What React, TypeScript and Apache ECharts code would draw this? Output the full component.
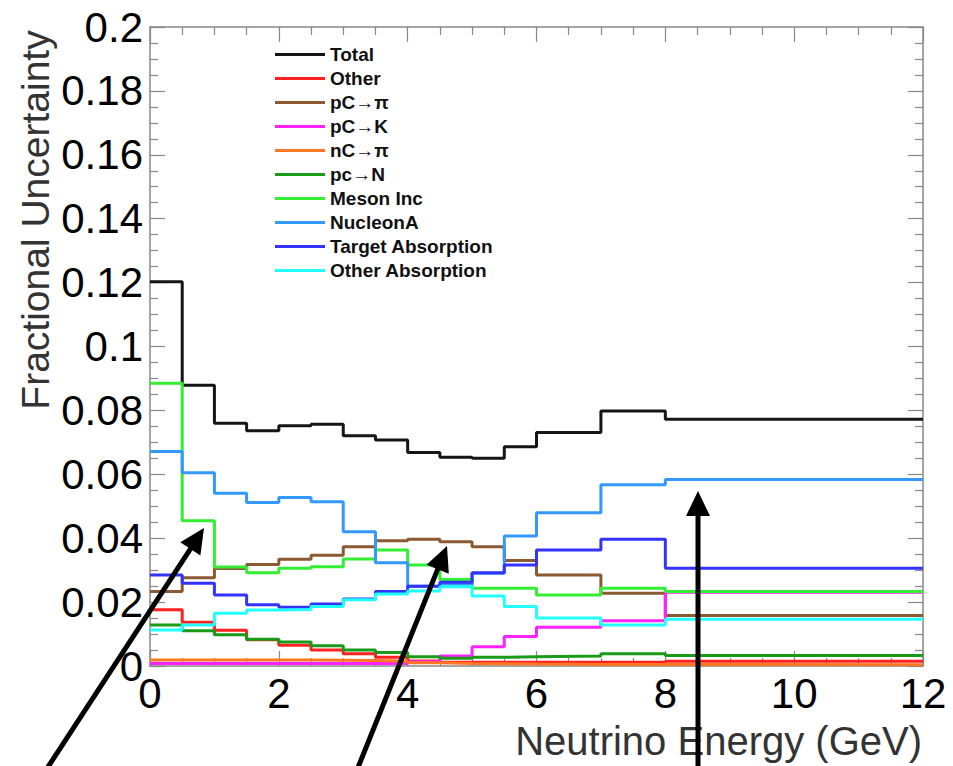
import React, { useEffect, useRef } from "react";
import * as echarts from "echarts";

// Bin edges (GeV) of the histograms
const binEdges: number[] = [0, 0.5, 1, 1.5, 2, 2.5, 3, 3.5, 4, 4.5, 5, 5.5, 6, 7, 8, 12];

// Fractional uncertainty per bin for each component
const total: number[] = [0.1203, 0.0879, 0.076, 0.0736, 0.0752, 0.0757, 0.0721, 0.0707, 0.0668, 0.0653, 0.065, 0.0686, 0.0731, 0.0798, 0.0772];
const other: number[] = [0.0176, 0.0137, 0.0112, 0.0082, 0.0065, 0.005, 0.0038, 0.0027, 0.0016, 0.0012, 0.0012, 0.0012, 0.0012, 0.0012, 0.0015];
const pcPi: number[] = [0.0233, 0.0276, 0.0305, 0.0318, 0.0334, 0.0347, 0.0373, 0.0392, 0.0397, 0.0389, 0.0373, 0.033, 0.0285, 0.0228, 0.0158];
const pcK: number[] = [0.0008, 0.0008, 0.0008, 0.0008, 0.0008, 0.0008, 0.0008, 0.0008, 0.0013, 0.0031, 0.006, 0.0092, 0.0121, 0.0142, 0.0231];
const ncPi: number[] = [0.0019, 0.0019, 0.0019, 0.0019, 0.0019, 0.0018, 0.0017, 0.0015, 0.001, 0.0008, 0.0007, 0.0006, 0.0005, 0.0005, 0.0004];
const pcN: number[] = [0.0128, 0.011, 0.0098, 0.0084, 0.0075, 0.0063, 0.005, 0.0042, 0.0029, 0.0024, 0.0027, 0.0029, 0.0031, 0.0038, 0.0033];
const mesonInc: number[] = [0.0885, 0.0455, 0.031, 0.0292, 0.0306, 0.0311, 0.0335, 0.0363, 0.0316, 0.0271, 0.0243, 0.0243, 0.0222, 0.0243, 0.0233];
const nucleonA: number[] = [0.0671, 0.0605, 0.0541, 0.0512, 0.0527, 0.0514, 0.042, 0.0323, 0.025, 0.0256, 0.029, 0.0407, 0.048, 0.0567, 0.0584];
const targetAbs: number[] = [0.0285, 0.0259, 0.0222, 0.0192, 0.0184, 0.0194, 0.021, 0.0233, 0.025, 0.0262, 0.0292, 0.0316, 0.0363, 0.0397, 0.0306];
const otherAbs: number[] = [0.0113, 0.0128, 0.0165, 0.0175, 0.0177, 0.0186, 0.0207, 0.0225, 0.0235, 0.0248, 0.0219, 0.0186, 0.015, 0.0128, 0.0146];

const seriesNames: string[] = ["Total", "Other", "pC→π", "pC→K", "nC→π", "pc→N", "Meson Inc", "NucleonA", "Target Absorption", "Other Absorption"];
const seriesColors: string[] = ["#151515", "#ff2020", "#8c5a32", "#ff22ff", "#ff7722", "#199a19", "#33ee33", "#3399ff", "#3333ff", "#22ffff"];
const seriesValues: number[][] = [total, other, pcPi, pcK, ncPi, pcN, mesonInc, nucleonA, targetAbs, otherAbs];

const xTicks = { min: 0, max: 12, interval: 2 };
const yTicks = { min: 0, max: 0.2, interval: 0.02 };

const FONT = "'Liberation Sans', Arial, Helvetica, sans-serif";
const AXIS_GRAY = "#888888";

function stepData(values: number[]): number[][] {
  const pts = values.map((v, i) => [binEdges[i], v]);
  pts.push([binEdges[binEdges.length - 1], values[values.length - 1]]);
  return pts;
}

function arrow(tail: number[], tip: number[], headLen: number, headW: number, width: number) {
  const dx = tip[0] - tail[0];
  const dy = tip[1] - tail[1];
  const len = Math.sqrt(dx * dx + dy * dy);
  const ux = dx / len;
  const uy = dy / len;
  const bx = tip[0] - ux * headLen;
  const by = tip[1] - uy * headLen;
  const px = -uy;
  const py = ux;
  return [
    {
      type: "line",
      z: 100,
      shape: { x1: tail[0], y1: tail[1], x2: bx + ux * 2, y2: by + uy * 2 },
      style: { stroke: "#000", lineWidth: width },
    },
    {
      type: "polygon",
      z: 100,
      shape: {
        points: [
          [tip[0], tip[1]],
          [bx + (px * headW) / 2, by + (py * headW) / 2],
          [bx - (px * headW) / 2, by - (py * headW) / 2],
        ],
      },
      style: { fill: "#000" },
    },
  ];
}

export default function App() {
  const ref = useRef<HTMLDivElement>(null);

  useEffect(() => {
    if (!ref.current) return;
    const chart = echarts.init(ref.current, undefined, { renderer: "svg" });

    const axisCommon = {
      type: "value" as const,
      axisLine: { show: true, onZero: false, lineStyle: { color: AXIS_GRAY, width: 1.5 } },
      axisTick: { show: true, inside: true, length: 15, lineStyle: { color: AXIS_GRAY, width: 1.2 } },
      minorTick: { show: true, length: 8, lineStyle: { color: AXIS_GRAY, width: 1.2 } },
      splitLine: { show: false },
    };

    const option: any = {
      animation: false,
      backgroundColor: "#ffffff",
      grid: { left: 150, right: 30, top: 27, bottom: 100, containLabel: false },
      legend: {
        orient: "vertical",
        left: 270,
        top: 40,
        itemWidth: 50,
        itemHeight: 3,
        itemGap: 5,
        icon: "rect",
        data: seriesNames,
        textStyle: { fontSize: 19, fontWeight: "bold", fontFamily: FONT, color: "#111", lineHeight: 19 },
      },
      xAxis: [
        {
          ...axisCommon,
          position: "bottom",
          min: xTicks.min,
          max: xTicks.max,
          interval: xTicks.interval,
          minorTick: { ...axisCommon.minorTick, splitNumber: 4 },
          axisLabel: { fontSize: 42, color: "#000", fontFamily: FONT, margin: 6 },
        },
        {
          ...axisCommon,
          position: "top",
          min: xTicks.min,
          max: xTicks.max,
          interval: xTicks.interval,
          minorTick: { ...axisCommon.minorTick, splitNumber: 4 },
          axisLabel: { show: false },
        },
      ],
      yAxis: [
        {
          ...axisCommon,
          position: "left",
          min: yTicks.min,
          max: yTicks.max,
          interval: yTicks.interval,
          minorTick: { ...axisCommon.minorTick, splitNumber: 4 },
          axisLabel: {
            fontSize: 42,
            color: "#000",
            fontFamily: FONT,
            margin: 7,
            formatter: (v: number) => String(+v.toFixed(2)),
          },
        },
        {
          ...axisCommon,
          position: "right",
          min: yTicks.min,
          max: yTicks.max,
          interval: yTicks.interval,
          minorTick: { ...axisCommon.minorTick, splitNumber: 4 },
          axisLabel: { show: false },
        },
      ],
      series: seriesNames.map((name, i) => ({
        name,
        type: "line",
        step: "end",
        showSymbol: false,
        symbol: "none",
        data: stepData(seriesValues[i]),
        lineStyle: { color: seriesColors[i], width: 3 },
        itemStyle: { color: seriesColors[i] },
        color: seriesColors[i],
      })),
      graphic: [
        {
          type: "text",
          x: 35,
          y: 220,
          rotation: Math.PI / 2,
          style: {
            text: "Fractional Uncertainty",
            font: `39px ${FONT}`,
            fill: "#333",
            textAlign: "center",
            textVerticalAlign: "middle",
          },
        },
        {
          type: "text",
          x: 922,
          y: 741,
          style: {
            text: "Neutrino Energy (GeV)",
            font: `40px ${FONT}`,
            fill: "#333",
            textAlign: "right",
            textVerticalAlign: "middle",
          },
        },
        ...arrow([46, 770], [204, 528], 25, 24, 5),
        ...arrow([357, 770], [447, 546], 25, 24, 5),
        ...arrow([698, 770], [698, 491], 25, 24, 5),
      ],
    };

    chart.setOption(option);
    return () => chart.dispose();
  }, []);

  return (
    <div
      ref={ref}
      style={{ position: "absolute", left: 0, top: 0, width: 953, height: 766 }}
    />
  );
}
